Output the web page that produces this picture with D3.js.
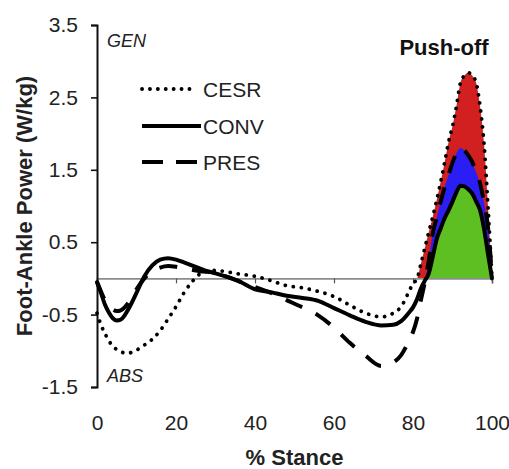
<!DOCTYPE html>
<html>
<head>
<meta charset="utf-8">
<script src="https://cdn.jsdelivr.net/npm/d3@7/dist/d3.min.js"></script>
<style>
  html, body { margin: 0; padding: 0; background: #fff; }
  svg { display: block; font-family: "Liberation Sans", Arial, sans-serif; }
</style>
</head>
<body>
<svg id="chart" width="509" height="469"></svg>
<script>
// % of stance phase at which each curve is sampled
const stance = [0,1,2,3,4,5,6,7,8,10,12,14,16,18,20,22,24,26,28,30,33,36,40,44,48,52,56,60,64,68,72,75,77,79,80,81,82,83,84,85,86,87,88,89,90,91,92,93,94,95,96,97,98,99,100];

// Foot-ankle power (W/kg) per foot condition
const cesr = [-0.48,-0.64,-0.76,-0.86,-0.94,-0.98,-1.01,-1.03,-1.03,-0.99,-0.92,-0.84,-0.72,-0.56,-0.39,-0.2,-0.05,0.06,0.1,0.11,0.09,0.06,0.03,-0.03,-0.1,-0.13,-0.18,-0.25,-0.37,-0.48,-0.53,-0.48,-0.39,-0.18,-0.07,-0.01,0.2,0.42,0.64,0.85,1.08,1.33,1.6,1.88,2.1,2.38,2.7,2.8,2.84,2.8,2.7,2.37,1.85,0.98,0.0];
const conv = [-0.05,-0.2,-0.36,-0.47,-0.55,-0.58,-0.57,-0.51,-0.42,-0.2,0.03,0.18,0.26,0.28,0.26,0.22,0.18,0.14,0.1,0.07,0.02,-0.04,-0.15,-0.19,-0.24,-0.27,-0.31,-0.41,-0.51,-0.6,-0.65,-0.64,-0.59,-0.47,-0.4,-0.29,-0.14,-0.03,0.07,0.3,0.54,0.69,0.83,0.94,1.06,1.19,1.28,1.27,1.23,1.17,1.06,0.94,0.68,0.33,0.0];
const pres = [-0.05,-0.18,-0.3,-0.38,-0.43,-0.45,-0.44,-0.4,-0.33,-0.15,0.0,0.1,0.15,0.17,0.16,0.14,0.12,0.1,0.09,0.07,0.02,-0.04,-0.12,-0.2,-0.3,-0.4,-0.51,-0.68,-0.89,-1.07,-1.21,-1.16,-1.06,-0.86,-0.74,-0.56,-0.3,-0.05,0.25,0.62,0.84,1.06,1.26,1.43,1.6,1.73,1.8,1.77,1.7,1.61,1.46,1.31,1.04,0.7,0.03];

const seriesNames = ["CESR", "CONV", "PRES"];
const yTicks = [-1.5, -0.5, 0.5, 1.5, 2.5, 3.5];
const xTicks = [0, 20, 40, 60, 80, 100];

const svg = d3.select("#chart");
const x = d3.scaleLinear().domain([0, 100]).range([97, 492]);
const y = d3.scaleLinear().domain([-1.5, 3.5]).range([387, 25]);

const pts = vals => stance.map((p, i) => [p, vals[i]]);
const line = d3.line().x(d => x(d[0])).y(d => y(d[1])).curve(d3.curveMonotoneX);
const area = d3.area().x(d => x(d[0])).y0(y(0)).y1(d => y(d[1])).curve(d3.curveMonotoneX);

// push-off fills: only the positive part of late stance
svg.append("clipPath").attr("id", "gen")
  .append("rect").attr("x", x(0)).attr("y", 0).attr("width", 420).attr("height", y(0));
const late = vals => pts(vals).filter(d => d[0] >= 78);
const fills = svg.append("g").attr("clip-path", "url(#gen)");
fills.append("path").attr("d", area(late(cesr))).attr("fill", "#d21f1f");
fills.append("path").attr("d", area(late(pres))).attr("fill", "#2b1ef4");
fills.append("path").attr("d", area(late(conv))).attr("fill", "#5dbf22");

// x axis along zero power
const xAxis = svg.append("g").attr("transform", `translate(0,${y(0)})`)
  .call(d3.axisBottom(x).tickValues(xTicks).tickSize(5).tickFormat(""));
xAxis.select(".domain").attr("stroke", "#8c8c8c").attr("stroke-width", 1.6);
xAxis.selectAll(".tick line").attr("stroke", "#555").attr("stroke-width", 1.2);

// x tick labels below the plot
const xLab = svg.append("g").attr("transform", `translate(0,${y(-1.5)})`)
  .call(d3.axisBottom(x).tickValues(xTicks).tickSize(0).tickPadding(28).tickFormat(d => d));
xLab.select(".domain").remove();
xLab.selectAll("text").attr("font-size", 21).attr("fill", "#222").attr("font-family", "Liberation Sans, Arial, sans-serif");

// y axis
const yAxis = svg.append("g").attr("transform", `translate(${x(0)},0)`)
  .call(d3.axisLeft(y).tickValues(yTicks).tickSize(6).tickPadding(13).tickFormat(d => d.toFixed(1)));
yAxis.select(".domain").attr("stroke", "#111").attr("stroke-width", 2);
yAxis.selectAll(".tick line").attr("stroke", "#111").attr("stroke-width", 1.6);
yAxis.selectAll("text").attr("font-size", 21).attr("fill", "#222").attr("font-family", "Liberation Sans, Arial, sans-serif");

// curves
const styles = {
  CESR: { data: cesr, dash: "0.1,8", cap: "round", w: 3.8, legDash: "0.1,7.8", legEnd: 193 },
  PRES: { data: pres, dash: "18,15", cap: "butt", w: 4, legDash: "21,13", legEnd: 197 },
  CONV: { data: conv, dash: null, cap: "round", w: 4, legDash: null, legEnd: 201 }
};
["CESR", "PRES", "CONV"].forEach(n => {
  const s = styles[n];
  svg.append("path").attr("d", line(pts(s.data)))
    .attr("fill", "none").attr("stroke", "#000")
    .attr("stroke-width", s.w).attr("stroke-linecap", s.cap)
    .attr("stroke-linejoin", "round")
    .attr("stroke-dasharray", s.dash);
});

// legend
const legendY = { CESR: 89, CONV: 126, PRES: 162 };
const legendBase = { CESR: 97, CONV: 134, PRES: 170 };
seriesNames.forEach(n => {
  const s = styles[n];
  svg.append("line").attr("x1", 142).attr("x2", s.legEnd)
    .attr("y1", legendY[n]).attr("y2", legendY[n])
    .attr("stroke", "#000").attr("stroke-width", s.w)
    .attr("stroke-linecap", n === "CESR" ? "round" : "butt")
    .attr("stroke-dasharray", s.legDash);
  svg.append("text").attr("x", 203).attr("y", legendBase[n])
    .attr("font-size", 21).attr("fill", "#222").text(n);
});

// annotations
svg.append("text").attr("x", 107).attr("y", 47).attr("font-size", 18)
  .attr("font-style", "italic").attr("fill", "#222").text("GEN");
svg.append("text").attr("x", 107).attr("y", 382).attr("font-size", 18)
  .attr("font-style", "italic").attr("fill", "#222").text("ABS");
svg.append("text").attr("x", 444).attr("y", 55).attr("font-size", 22)
  .attr("font-weight", "bold").attr("text-anchor", "middle").attr("fill", "#111").text("Push-off");

// axis titles
svg.append("text").attr("x", x(50)).attr("y", 465).attr("font-size", 22)
  .attr("font-weight", "bold").attr("text-anchor", "middle").attr("fill", "#222").text("% Stance");
svg.append("text").attr("transform", `translate(32,${(y(-1.5) + y(3.5)) / 2}) rotate(-90)`)
  .attr("font-size", 22).attr("font-weight", "bold").attr("text-anchor", "middle")
  .attr("fill", "#222").text("Foot-Ankle Power (W/kg)");
</script>
</body>
</html>
